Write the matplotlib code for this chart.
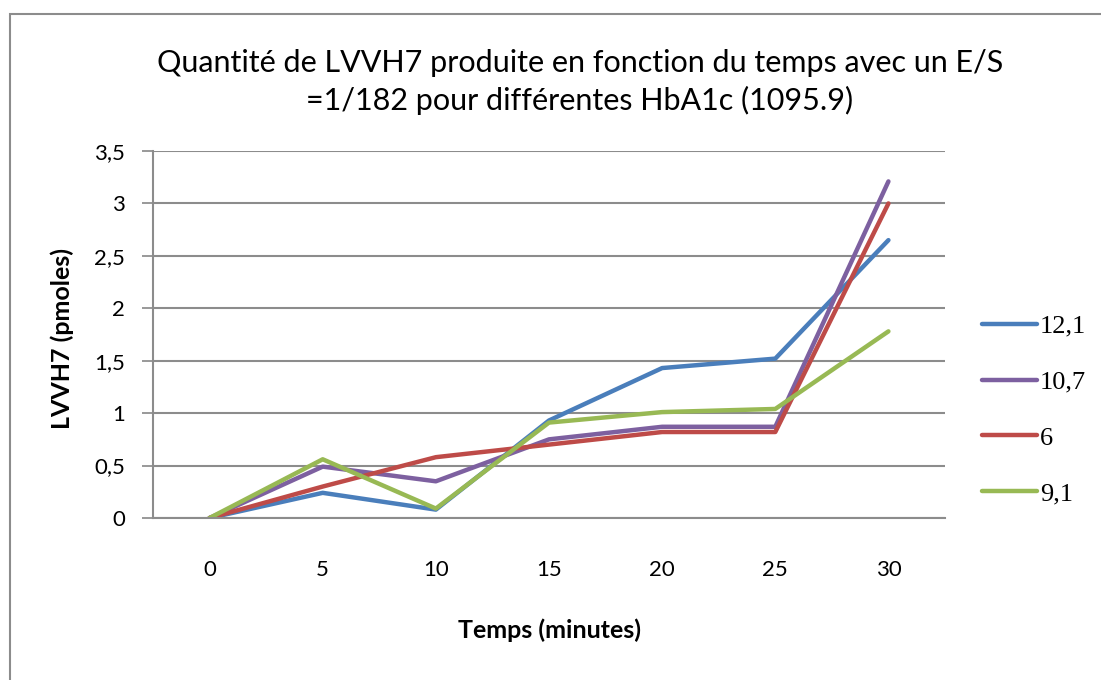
import matplotlib
matplotlib.use("Agg")
import matplotlib.pyplot as plt
from matplotlib.patches import Rectangle

# Data
times = [0, 5, 10, 15, 20, 25, 30]
series_names = ["12,1", "10,7", "6", "9,1"]
hba_12_1 = [0, 0.24, 0.08, 0.93, 1.43, 1.52, 2.65]
hba_10_7 = [0, 0.49, 0.35, 0.75, 0.87, 0.87, 3.21]
hba_6 = [0, 0.30, 0.58, 0.70, 0.82, 0.82, 3.00]
hba_9_1 = [0, 0.56, 0.09, 0.91, 1.01, 1.04, 1.78]
colors = ["#4A7EBB", "#7D60A0", "#BE4B48", "#98B954"]
y_ticks = [0, 0.5, 1, 1.5, 2, 2.5, 3, 3.5]
y_labels = ["0", "0,5", "1", "1,5", "2", "2,5", "3", "3,5"]

font = ["Lato", "DejaVu Sans"]
serif = ["Liberation Serif", "DejaVu Serif"]

fig = plt.figure(figsize=(11.01, 6.8), dpi=100)

# Outer chart frame
fig.patches.append(Rectangle((10 / 1101, -0.01), 1.0, 1 - 14 / 680 + 0.01,
                             transform=fig.transFigure, fill=False,
                             edgecolor="#8c8c8c", linewidth=1.5))

ax = fig.add_axes([153 / 1101, 1 - 518 / 680, (945 - 153) / 1101, (518 - 151) / 680])

# Category axis: evenly spaced positions
x = list(range(len(times)))
for vals, name, c in zip([hba_12_1, hba_10_7, hba_6, hba_9_1], series_names, colors):
    ax.plot(x, vals, color=c, linewidth=3.2, label=name, solid_capstyle="round")

ax.set_xlim(-0.5, len(times) - 0.5)
ax.set_ylim(0, 3.5)
ax.set_yticks(y_ticks)
ax.set_yticklabels(y_labels, fontfamily=font, fontsize=16)
ax.set_xticks(x)
ax.set_xticklabels([str(t) for t in times], fontfamily=font, fontsize=16)
ax.tick_params(axis="x", length=0, pad=30)
ax.tick_params(axis="y", length=8, color="#888888", width=1.2, pad=12)

ax.grid(axis="y", color="#8c8c8c", linewidth=1.5)
ax.set_axisbelow(True)
for side in ["top", "right"]:
    ax.spines[side].set_visible(False)
for side in ["left", "bottom"]:
    ax.spines[side].set_color("#8c8c8c")
    ax.spines[side].set_linewidth(1.5)

ax.set_xlabel("Temps (minutes)", fontfamily=font, fontsize=18,
              fontweight="bold", va="center")
ax.xaxis.set_label_coords(0.5, (518 - 630) / 367)
ax.set_ylabel("LVVH7 (pmoles)", fontfamily=font, fontsize=18,
              fontweight="bold", va="center")
ax.yaxis.set_label_coords((62 - 153) / 792, 0.49)

fig.text(580 / 1101, 1 - 82 / 680,
         "Quantité de LVVH7 produite en fonction du temps avec un E/S\n"
         "=1/182 pour différentes HbA1c (1095.9)",
         ha="center", va="center", fontfamily=font, fontsize=22,
         linespacing=1.35)

ax.legend(loc="center left", bbox_to_anchor=(982 / 1101, 1 - 410 / 680),
          bbox_transform=fig.transFigure, frameon=False, borderpad=0,
          borderaxespad=0, prop={"family": serif, "size": 19},
          handlelength=2.1, handletextpad=0.1, labelspacing=1.23)

fig.savefig("out.png", dpi=100)
